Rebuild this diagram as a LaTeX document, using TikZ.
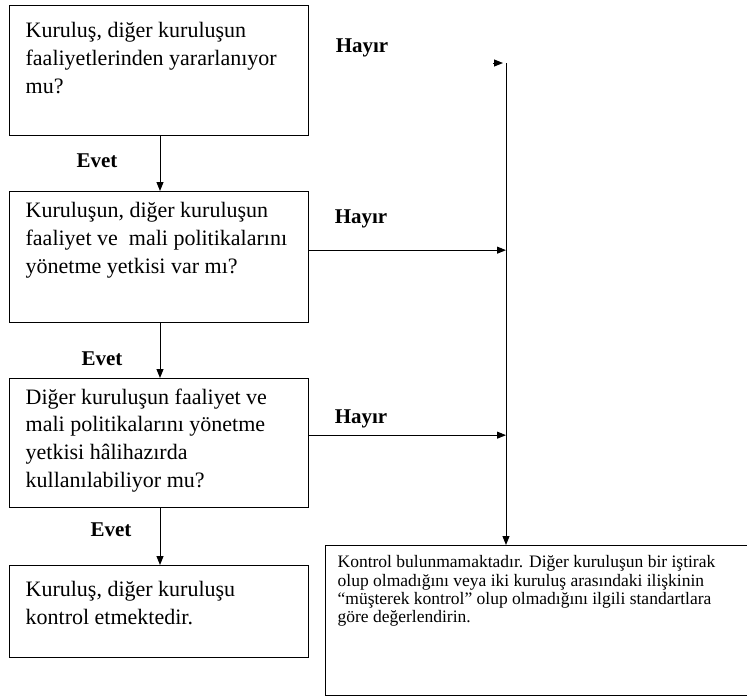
\documentclass[tikz,border=0pt]{standalone}
\usepackage{fontspec}
\setmainfont{Liberation Serif}
\usetikzlibrary{arrows.meta,positioning}
\tikzset{
  qbox/.style={rectangle, draw, line width=1.3pt, anchor=north west, inner xsep=16pt, inner ysep=0pt, align=left, font=\fontsize{22}{27.7}\selectfont},
  note/.style={qbox, inner xsep=12pt, font=\fontsize{17.5}{18.3}\selectfont},
  lbl/.style={font=\bfseries\fontsize{21}{24}\selectfont, inner sep=0pt},
  arr/.style={-{Triangle[length=9pt,width=7pt]}, line width=1pt}
}
% parbox with fixed height, text at top after a gap
\newcommand{\boxtxt}[4]{\parbox[c][#1][t]{#2}{\vspace*{#3}#4}}

\begin{document}
\begin{tikzpicture}[x=1pt,y=-1pt]
\useasboundingbox (0,0) rectangle (747,697);
\node[qbox] (q1) at (9,5) {\boxtxt{130pt}{267pt}{17pt}{Kuruluş, diğer kuruluşun\\faaliyetlerinden yararlanıyor\\mu?}};
\node[qbox] (q2) at (9,191) {\boxtxt{131pt}{267pt}{11pt}{Kuruluşun, diğer kuruluşun\\faaliyet ve\ \ mali politikalarını\\yönetme yetkisi var mı?}};
\node[qbox] (q3) at (9,378) {\boxtxt{129pt}{267pt}{10pt}{Diğer kuruluşun faaliyet ve\\mali politikalarını yönetme\\yetkisi hâlihazırda\\kullanılabiliyor mu?}};
\node[qbox] (q4) at (9,565) {\boxtxt{92pt}{267pt}{16pt}{Kuruluş, diğer kuruluşu\\kontrol etmektedir.}};
\node[note] (q5) at (325,545) {\boxtxt{150pt}{400pt}{10pt}{Kontrol bulunmamaktadır. Diğer kuruluşun bir iştirak\\olup olmadığını veya iki kuruluş arasındaki ilişkinin\\“müşterek kontrol” olup olmadığını ilgili standartlara\\göre değerlendirin.}};

% labels
\node[lbl] (h1) at (362,48) {Hayır};
\node[lbl] (h2) at (361,219) {Hayır};
\node[lbl] (h3) at (361,419) {Hayır};
\node[lbl] (e1) at (97,161) {Evet};
\node[lbl] (e2) at (102,359) {Evet};
\node[lbl] (e3) at (111,530) {Evet};

% connectors
\coordinate (top) at (506,63);
\coordinate (topin) at (493,63);
\draw[arr] (topin) -- ([xshift=-3pt]top);
\draw[arr] (top) -- (top |- q5.north);
\draw[arr] (q1.south -| 160,0) -- (q2.north -| 160,0);
\draw[arr] (q2.south -| 160,0) -- (q3.north -| 160,0);
\draw[arr] (q3.south -| 160,0) -- (q4.north -| 160,0);
\draw[arr] ([yshift=7pt]q2.east) -- ([yshift=7pt]q2.east -| top);
\draw[arr] ([yshift=8pt]q3.east) -- ([yshift=8pt]q3.east -| top);
\end{tikzpicture}
\end{document}
